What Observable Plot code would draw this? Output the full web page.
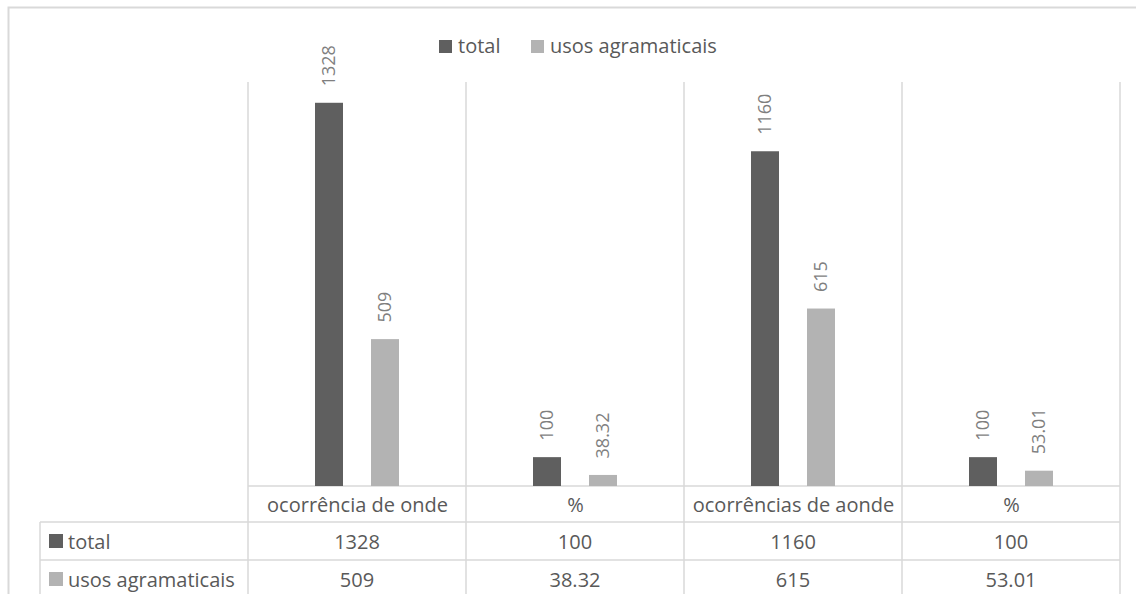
<!DOCTYPE html>
<html>
<head>
<meta charset="utf-8">
<script src="https://cdn.jsdelivr.net/npm/d3@7"></script>
<script src="https://cdn.jsdelivr.net/npm/@observablehq/plot@0.6"></script>
<style>
  html, body { margin: 0; padding: 0; background: #fff; }
  #grafico { position: relative; width: 1136px; height: 594px; overflow: hidden; background: #fff; }
  #grafico svg { display: block; }
</style>
</head>
<body>
<div id="grafico"></div>
<script>
// Categorias do eixo e valores de cada série
const categorias = ["ocorrência de onde", "%", "ocorrências de aonde", "%"];
const series = ["total", "usos agramaticais"];
const total = [1328, 100, 1160, 100];
const usosAgramaticais = [509, 38.32, 615, 53.01];
const coresSeries = ["#5f5f5f", "#b3b3b3"];

const valoresPorSerie = [total, usosAgramaticais];
const linhas = categorias.flatMap((c, i) =>
  series.map((s, k) => ({col: i, serie: s, valor: valoresPorSerie[k][i]}))
);

const fonte = "'Open Sans', sans-serif";
const corTexto = "#595959";
const corGrade = "#d9d9d9";

const chart = Plot.plot({
  width: 1136,
  height: 594,
  marginLeft: 248,
  marginRight: 16,
  marginTop: 82,
  marginBottom: 108,
  style: {fontFamily: fonte, background: "transparent", overflow: "visible"},
  fx: {domain: d3.range(categorias.length), padding: 0, axis: null},
  x: {domain: series, paddingInner: 0.4912, paddingOuter: 1.158, axis: null},
  y: {domain: [0, 1400], axis: null},
  color: {domain: series, range: coresSeries},
  marks: [
    Plot.barY(linhas, {fx: "col", x: "serie", y: "valor", fill: "serie"}),
    Plot.text(linhas, {
      fx: "col", x: "serie", y: "valor",
      text: d => String(d.valor),
      rotate: -90, textAnchor: "start", lineAnchor: "middle",
      dy: -17, fill: "#7f7f7f", fontSize: 18
    }),
    Plot.axisFx({
      anchor: "bottom", tickSize: 0, tickPadding: 11, fontSize: 20,
      color: corTexto, label: null, tickFormat: i => categorias[i]
    })
  ]
});

document.getElementById("grafico").appendChild(chart);

// Grade da tabela de dados, legenda e bordas
const svg = d3.select(chart);
const fx = chart.scale("fx");
const y = chart.scale("y");
const cor = chart.scale("color");

const base = y.apply(0);
const topo = y.apply(1400);
const colunas = fx.domain.map(i => fx.apply(i));
const fim = colunas[colunas.length - 1] + fx.bandwidth;
const limites = [...colunas, fim];
const esquerdaTabela = 40;
const linhasTabela = [base + 36, base + 74];
const alturaLinha = [38, 38];

const grade = svg.insert("g", ":first-child")
  .attr("stroke", corGrade).attr("stroke-width", 1.5).attr("fill", "none");

// borda externa do gráfico
grade.append("path").attr("stroke-width", 2)
  .attr("d", `M8.5,594V7.5H1136`);

// separadores verticais das categorias
limites.forEach(xv => {
  grade.append("line").attr("x1", xv).attr("x2", xv).attr("y1", topo).attr("y2", 594);
});
// linha de base do gráfico (topo da linha de categorias)
grade.append("line").attr("x1", limites[0]).attr("x2", fim).attr("y1", base).attr("y2", base);
// linhas horizontais da tabela
linhasTabela.forEach(yv => {
  grade.append("line").attr("x1", esquerdaTabela).attr("x2", fim).attr("y1", yv).attr("y2", yv);
});
// borda esquerda da tabela
grade.append("line").attr("x1", esquerdaTabela).attr("x2", esquerdaTabela)
  .attr("y1", linhasTabela[0]).attr("y2", 594);

// linhas da tabela: chave com cor + valores
const tabela = svg.append("g").attr("font-family", fonte).attr("font-size", 20)
  .attr("fill", corTexto).attr("text-anchor", "start");
series.forEach((s, k) => {
  const yBase = linhasTabela[0] + alturaLinha[k] * k + 27;
  tabela.append("rect")
    .attr("x", esquerdaTabela + 9).attr("y", yBase - 15)
    .attr("width", 14).attr("height", 14)
    .attr("fill", cor.apply(s));
  tabela.append("text")
    .attr("x", esquerdaTabela + 28).attr("y", yBase)
    .attr("text-anchor", "start")
    .text(s);
  valoresPorSerie[k].forEach((v, i) => {
    tabela.append("text")
      .attr("x", fx.apply(i) + fx.bandwidth / 2).attr("y", yBase)
      .attr("text-anchor", "middle")
      .text(String(v));
  });
});

// legenda no topo
const legenda = svg.append("g").attr("font-family", fonte).attr("font-size", 20)
  .attr("fill", corTexto).attr("text-anchor", "start");
const posLegenda = [439, 531];
series.forEach((s, k) => {
  legenda.append("rect")
    .attr("x", posLegenda[k]).attr("y", 40)
    .attr("width", 13).attr("height", 13)
    .attr("fill", cor.apply(s));
  legenda.append("text")
    .attr("x", posLegenda[k] + 19).attr("y", 53)
    .attr("text-anchor", "start")
    .text(s);
});
</script>
</body>
</html>
